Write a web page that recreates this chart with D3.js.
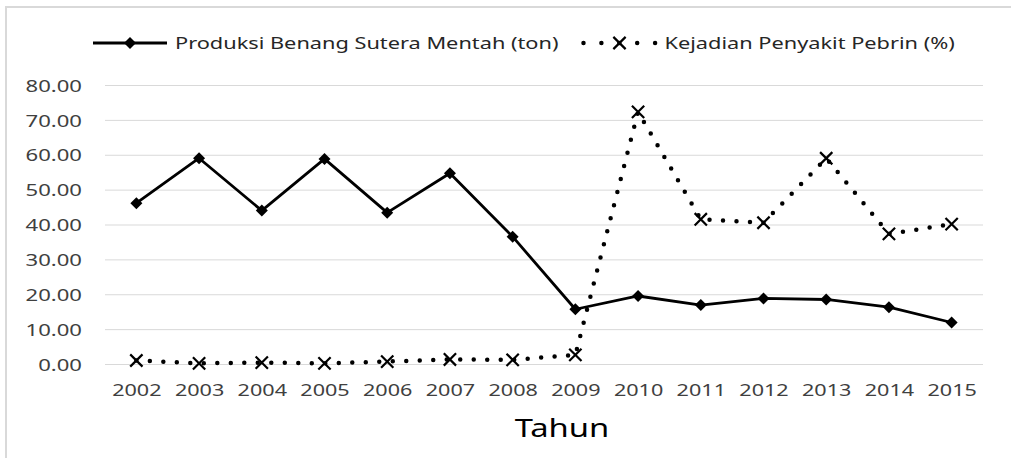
<!DOCTYPE html>
<html>
<head>
<meta charset="utf-8">
<script src="https://cdn.jsdelivr.net/npm/d3@7"></script>
<style>
  body { margin: 0; background: #fff; }
  text { font-family: "Noto Sans", sans-serif; fill: #404040; }
</style>
</head>
<body>
<div id="wrapper"></div>
<script>
// Data
const years = ['2002', '2003', '2004', '2005', '2006', '2007', '2008',
  '2009', '2010', '2011', '2012', '2013', '2014', '2015']
const produksi = [46.1, 59.0, 44.0, 58.8, 43.4, 54.7, 36.5,
  15.7, 19.5, 16.9, 18.8, 18.5, 16.3, 11.9]
const pebrin = [1.0, 0.2, 0.4, 0.2, 0.7, 1.3, 1.2,
  2.6, 72.3, 41.5, 40.5, 59.0, 37.3, 40.1]
const yTicks = [0, 10, 20, 30, 40, 50, 60, 70, 80]
const seriesNames = ['Produksi Benang Sutera Mentah (ton)', 'Kejadian Penyakit Pebrin (%)']
const axisTitle = 'Tahun'

// Dimensions
const width = 1011
const height = 458
const stretch = 1.3 // the original text is drawn a bit wide
const legendStretch = 1.28
const plot = { left: 105, right: 983, top: 85, bottom: 364 }

const svg = d3.select('#wrapper')
  .append('svg')
  .attr('width', width)
  .attr('height', height)

// chart frame
svg.append('rect')
  .attr('x', 6).attr('y', 7)
  .attr('width', 1200).attr('height', 600)
  .attr('fill', 'none')
  .attr('stroke', '#d9d9d9')
  .attr('stroke-width', 2)

// Scales
const x = d3.scalePoint()
  .domain(years)
  .range([plot.left, plot.right])
  .padding(0.5)

const y = d3.scaleLinear()
  .domain([0, 80])
  .range([plot.bottom, plot.top])

// Gridlines + y labels
const yAxis = svg.append('g')
  .attr('transform', `translate(${plot.left},0)`)
  .call(d3.axisLeft(y)
    .tickValues(yTicks)
    .tickSize(-(plot.right - plot.left))
    .tickFormat(d3.format('.2f')))
yAxis.select('.domain').remove()
yAxis.selectAll('.tick line').attr('stroke', '#d9d9d9').attr('stroke-width', 1)
yAxis.selectAll('.tick text')
  .attr('x', -23 / stretch)
  .attr('dy', '0.36em')
  .attr('transform', `scale(${stretch},1)`)
  .style('font-size', '17px')
  .style('fill', '#404040')

// x labels
const xAxis = svg.append('g')
  .attr('transform', `translate(0,${plot.bottom})`)
  .call(d3.axisBottom(x).tickSize(0).tickPadding(20))
xAxis.select('.domain').remove()
xAxis.selectAll('.tick text')
  .attr('transform', `scale(1.27,1)`)
  .style('font-size', '17px')
  .style('fill', '#404040')

svg.append('text')
  .attr('transform', `translate(562,437) scale(1.26,1)`)
  .attr('text-anchor', 'middle')
  .style('font-size', '26px')
  .style('fill', '#000')
  .text(axisTitle)

// Lines
const lineGen = d3.line()
  .x((d, i) => x(years[i]))
  .y(d => y(d))

const diamond = d3.symbol(d3.symbolSquare, 72)
const cross = d3.symbol(d3.symbolTimes, 100)

svg.append('path')
  .datum(produksi)
  .attr('d', lineGen)
  .attr('fill', 'none')
  .attr('stroke', '#000')
  .attr('stroke-width', 2.8)
  .attr('stroke-linejoin', 'round')

svg.selectAll('.diamond')
  .data(produksi)
  .join('path')
  .attr('class', 'diamond')
  .attr('d', diamond)
  .attr('transform', (d, i) => `translate(${x(years[i])},${y(d)}) rotate(45)`)
  .attr('fill', '#000')

svg.append('path')
  .datum(pebrin)
  .attr('d', lineGen)
  .attr('fill', 'none')
  .attr('stroke', '#000')
  .attr('stroke-width', 4.5)
  .attr('stroke-linecap', 'round')
  .attr('stroke-dasharray', '0 13.5')

svg.selectAll('.cross')
  .data(pebrin)
  .join('path')
  .attr('class', 'cross')
  .attr('d', cross)
  .attr('transform', (d, i) => `translate(${x(years[i])},${y(d)})`)
  .attr('fill', 'none')
  .attr('stroke', '#000')
  .attr('stroke-width', 2.2)

// Legend
const legendY = 43
const legend1 = svg.append('g')
legend1.append('line')
  .attr('x1', 93).attr('x2', 167)
  .attr('y1', legendY).attr('y2', legendY)
  .attr('stroke', '#000').attr('stroke-width', 2.8)
legend1.append('path')
  .attr('d', diamond)
  .attr('transform', `translate(130,${legendY}) rotate(45)`)
  .attr('fill', '#000')
const label1 = legend1.append('text')
  .attr('transform', `translate(175,${legendY}) scale(${legendStretch},1)`)
  .attr('dy', '0.35em')
  .style('font-size', '17px')
  .style('fill', '#262626')
  .text(seriesNames[0])

const label1End = 175 + label1.node().getComputedTextLength() * legendStretch
const l2 = label1End + 25

const legend2 = svg.append('g')
legend2.append('path')
  .attr('d', `M${l2},${legendY}H${l2 + 73}`)
  .attr('fill', 'none')
  .attr('stroke', '#000').attr('stroke-width', 4.5)
  .attr('stroke-linecap', 'round')
  .attr('stroke-dasharray', '0 17.9')
legend2.append('path')
  .attr('d', cross)
  .attr('transform', `translate(${l2 + 36},${legendY})`)
  .attr('fill', 'none')
  .attr('stroke', '#000')
  .attr('stroke-width', 2.2)
legend2.append('text')
  .attr('transform', `translate(${l2 + 81},${legendY}) scale(${legendStretch},1)`)
  .attr('dy', '0.35em')
  .style('font-size', '17px')
  .style('fill', '#262626')
  .text(seriesNames[1])
</script>
</body>
</html>
